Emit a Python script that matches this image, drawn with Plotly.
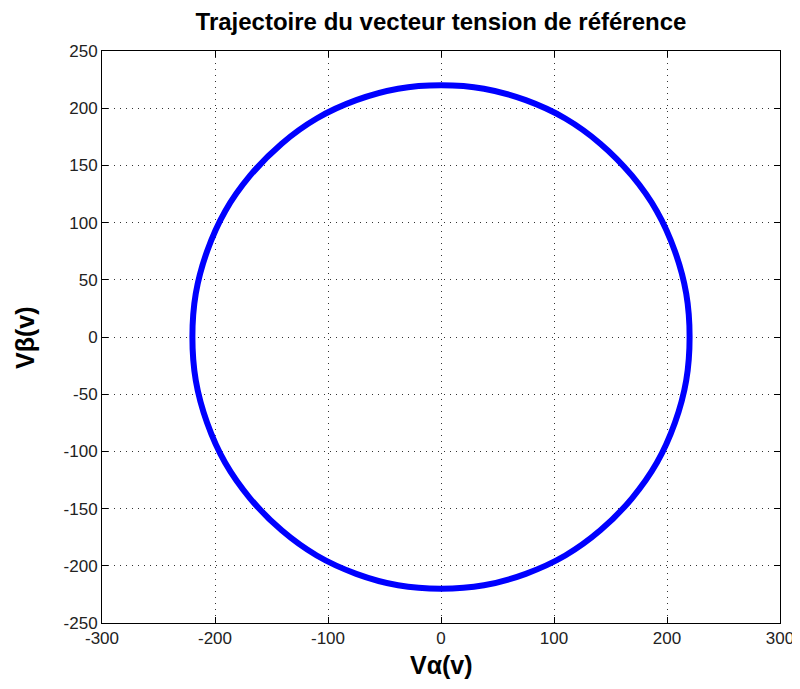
import plotly.graph_objects as go

# Trajectory points (radius ~220 V, centered at origin), every 10 degrees
v_alpha = [220, 217, 207, 191, 169, 141, 110, 75, 38, 0, -38, -75, -110, -141, -169, -191, -207, -217,
           -220, -217, -207, -191, -169, -141, -110, -75, -38, 0, 38, 75, 110, 141, 169, 191, 207, 217, 220]
v_beta = [0, 38, 75, 110, 141, 169, 191, 207, 217, 220, 217, 207, 191, 169, 141, 110, 75, 38,
          0, -38, -75, -110, -141, -169, -191, -207, -217, -220, -217, -207, -191, -169, -141, -110, -75, -38, 0]

x_ticks = [-300, -200, -100, 0, 100, 200, 300]
x_tick_labels = ["-300", "-200", "-100", "0", "100", "200", "300"]
y_ticks = [-250, -200, -150, -100, -50, 0, 50, 100, 150, 200, 250]
y_tick_labels = ["-250", "-200", "-150", "-100", "-50", "0", "50", "100", "150", "200", "250"]

fig = go.Figure()
fig.add_trace(go.Scatter(
    x=v_alpha, y=v_beta, mode="lines",
    line=dict(color="#0000ff", width=6, shape="spline", smoothing=1.0),
    hoverinfo="skip", showlegend=False,
))

tick_font = dict(family="Liberation Sans Narrow, Arial Narrow, Liberation Sans, Arial", size=17, color="#222")
axis_common = dict(
    showgrid=True, gridcolor="#333", griddash="1px,5px", gridwidth=1,
    showline=True, linecolor="black", linewidth=1, mirror="ticks",
    ticks="inside", ticklen=6, tickcolor="black", tickwidth=1,
    zeroline=False, tickfont=tick_font, automargin=False,
)

label_font = dict(family="Liberation Sans, Arial", size=25, color="black")

fig.update_layout(
    width=800, height=689,
    margin=dict(l=94, r=28, t=43, b=74, autoexpand=False),
    paper_bgcolor="white", plot_bgcolor="white",
    title=dict(text="<b>Trajectoire du vecteur tension de référence</b>",
               x=0.5, xref="paper", xanchor="center", y=0.9797, yanchor="middle", automargin=False,
               font=dict(family="Liberation Sans, Arial", size=24, color="black")),
    xaxis=dict(range=[-300, 300], tickvals=x_ticks, ticktext=x_tick_labels, **axis_common),
    yaxis=dict(range=[-250, 250], tickvals=y_ticks, ticktext=y_tick_labels, **axis_common),
    annotations=[
        dict(text="<b>Vα(v)</b>", xref="paper", yref="paper", x=0.5, y=-0.073,
             xanchor="center", yanchor="middle", showarrow=False, font=label_font),
        dict(text="<b>Vβ(v)</b>", xref="paper", yref="paper", x=-0.1136, y=0.5,
             xanchor="center", yanchor="middle", showarrow=False, textangle=-90, font=label_font),
    ],
)

fig.write_html("out.html")
